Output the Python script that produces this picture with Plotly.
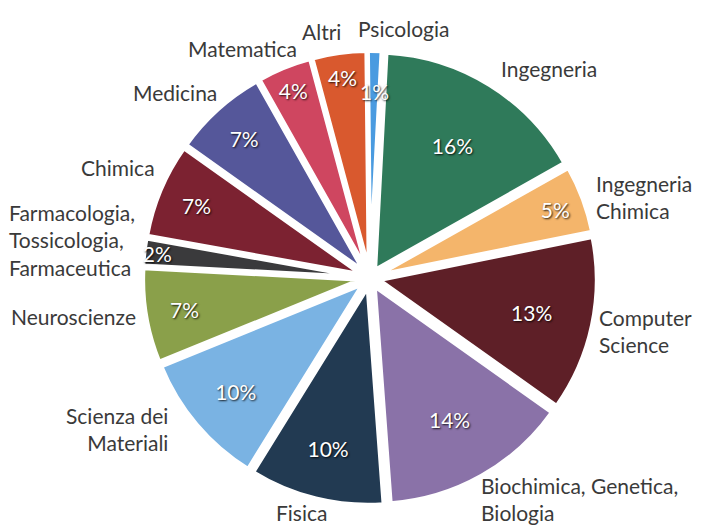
import math
import plotly.graph_objects as go

labels = ["Ingegneria", "Ingegneria<br>Chimica", "Computer<br>Science",
          "Biochimica, Genetica,<br>Biologia", "Fisica", "Scienza dei<br>Materiali",
          "Neuroscienze", "Farmacologia,<br>Tossicologia,<br>Farmaceutica", "Chimica",
          "Medicina", "Matematica", "Altri", "Psicologia"]
values = [16, 5, 13, 14, 10, 10, 7, 2, 7, 7, 4, 4, 1]
colors = ["#2f7a5a", "#f4b56b", "#5e1f27", "#8a72a8", "#223a52", "#7ab3e3",
          "#8aa04a", "#3a3a3c", "#7c2231", "#55579a", "#cf4660", "#d9592e", "#4a9be0"]

# style of the outside labels: anchor, alignment, gap (px) beyond pie edge, angle nudge (deg)
label_anchor = ["left", "left", "left", "left", "center", "right", "right",
                "right", "right", "right", "right", "right", "left"]
label_align = ["left", "left", "left", "left", "center", "right", "right",
               "left", "right", "right", "right", "right", "left"]
label_gap = [19, 11, 6, 19, 17, 24, 8, 9, 13, 12, 13, 21, 23]
label_nudge = [-0.2, 0.5, 1.1, 3.2, 2.5, 3.2, 0.2, 2.6, 4.5, 2.9, 4.9, 1.6, -4.4]
# the tiny last slice gets its percentage drawn separately (it overflows the slice)
small_idx = len(values) - 1
small_r, small_nudge = 0.82, 0.3

# the page body keeps its default 8px margin, so the figure is 8px smaller
W, H = 693, 520
ROT = 3
domain = dict(x=[0.1948, 0.8499], y=[0.0442, 0.9173])
pull = 0.045
FONT = "Lato"
SHADOW = "1px 1px 2px rgba(0,0,0,0.85)"

textpos = ["inside"] * len(values)
textpos[small_idx] = "none"

fig = go.Figure()
fig.add_trace(go.Pie(
    labels=labels, values=values, sort=False, direction="clockwise", rotation=ROT,
    marker=dict(colors=colors, line=dict(color="white", width=4)),
    pull=pull, domain=domain,
    texttemplate="%{value}%", textposition=textpos, insidetextorientation="horizontal",
    textfont=dict(family=FONT, size=21, color="white", shadow=SHADOW),
    hoverinfo="label+percent", showlegend=False,
))

# outside labels placed along each slice's mid-angle
cx = (domain["x"][0] + domain["x"][1]) / 2 * W
cy = (domain["y"][0] + domain["y"][1]) / 2 * H
outer = min((domain["x"][1] - domain["x"][0]) * W, (domain["y"][1] - domain["y"][0]) * H) / 2
total = sum(values)
cum = 0
mids = []
for lab, v, anc, al, gap, nd in zip(labels, values, label_anchor, label_align,
                                    label_gap, label_nudge):
    base = math.radians(ROT) + (cum + v / 2) / total * 2 * math.pi
    mids.append(base)
    cum += v
    mid = base + math.radians(nd)
    r = outer + gap
    x = cx + r * math.sin(mid)
    y = cy + r * math.cos(mid)
    fig.add_annotation(
        x=x / W, y=y / H, xref="paper", yref="paper",
        text=lab, showarrow=False, xanchor=anc, yanchor="middle", align=al,
        font=dict(family=FONT, size=21, color="#3a3a3a"),
    )

# percentage of the tiny slice
a = mids[small_idx] + math.radians(small_nudge)
fig.add_annotation(
    x=(cx + small_r * outer * math.sin(a)) / W, y=(cy + small_r * outer * math.cos(a)) / H,
    xref="paper", yref="paper", text=f"{values[small_idx]}%", showarrow=False,
    xanchor="center", yanchor="middle",
    font=dict(family=FONT, size=21, color="white", shadow=SHADOW),
)

fig.update_layout(
    width=W, height=H,
    margin=dict(l=0, r=0, t=0, b=0),
    paper_bgcolor="white", plot_bgcolor="white",
    uniformtext=dict(minsize=21, mode="show"),
)
fig.write_html("out.html")
